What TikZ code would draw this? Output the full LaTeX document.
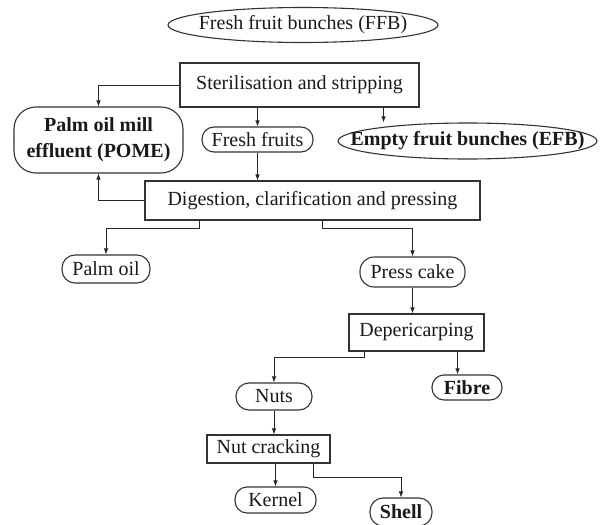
\documentclass[tikz,border=0pt]{standalone}
\usepackage{fontspec}
\setmainfont{Liberation Serif}
\usetikzlibrary{arrows.meta,shapes.geometric}

\begin{document}
\begin{tikzpicture}[x=1pt, y=-1pt,
    every node/.style={font=\fontsize{20}{24}\selectfont, inner sep=0pt, text=black!90},
    stepbox/.style={draw=black!80, line width=1.1pt, rectangle},
    pill/.style={draw=black!80, line width=1.1pt, rounded corners=12pt},
    oval/.style={draw=black!80, line width=1.1pt, ellipse, inner xsep=-45pt},
    boldtext/.style={font=\fontsize{20}{24}\selectfont\bfseries},
    flow/.style={draw=black!85, line width=0.8pt, -{Latex[length=6pt,width=4.5pt]}}]
    \useasboundingbox (0,0) rectangle (603,525);

    % process steps
    \node[oval, minimum width=270, minimum height=35] (ffb) at (303,25) {Fresh fruit bunches (FFB)};
    \node[stepbox, minimum width=239, minimum height=44] (steril) at (299.5,85) {Sterilisation and stripping};
    \node[pill, rounded corners=22pt, minimum width=169, minimum height=66, align=center, font=\fontsize{20}{26}\selectfont\bfseries] (pome) at (98.5,140) {Palm oil mill\\effluent (POME)};
    \node[pill, minimum width=111, minimum height=25] (fresh) at (257.5,139.5) {Fresh fruits};
    \node[oval, boldtext, minimum width=259, minimum height=36] (efb) at (467.5,141) {Empty fruit bunches (EFB)};
    \node[stepbox, minimum width=335, minimum height=39] (dig) at (312.5,200.5) {Digestion, clarification and pressing};
    \node[pill, rounded corners=13pt, minimum width=88, minimum height=28] (palm) at (106,269) {Palm oil};
    \node[pill, rounded corners=14pt, minimum width=105, minimum height=30] (press) at (412.5,272) {Press cake};
    \node[stepbox, minimum width=135, minimum height=37] (deper) at (416.5,332.5) {Depericarping};
    \node[pill, boldtext, minimum width=70, minimum height=25] (fibre) at (467,387.5) {Fibre};
    \node[pill, rounded corners=13pt, minimum width=76, minimum height=27] (nuts) at (274,396.5) {Nuts};
    \node[stepbox, minimum width=123, minimum height=28] (crack) at (268.5,449) {Nut cracking};
    \node[pill, minimum width=81, minimum height=26] (kernel) at (275.5,500) {Kernel};
    \node[pill, boldtext, rounded corners=13pt, minimum width=62, minimum height=28] (shell) at (401,512) {Shell};

    % connectors
    \draw[flow] (steril.west) -| (pome.north);
    \draw[flow] (steril.south -| fresh.north) -- (fresh.north);
    \draw[flow] ([xshift=-36]steril.south east) -- ([xshift=-36]steril.south east |- efb.north);
    \draw[flow] (fresh.south) -- (fresh.south |- dig.north);
    \draw[flow] (dig.west) -| (pome.south);
    \draw[flow] ([xshift=55]dig.south west) -- ++(0,8) -| (palm.north);
    \draw[flow] ([xshift=178]dig.south west) -- ++(0,8) -| (press.north);
    \draw[flow] (press.south) -- (press.south |- deper.north);
    \draw[flow] ([xshift=16]deper.south west) -- ++(0,6) -| (nuts.north);
    \draw[flow] ([xshift=-27]deper.south east) -- ([xshift=-27]deper.south east |- fibre.north);
    \draw[flow] (nuts.south) -- (nuts.south |- crack.north);
    \draw[flow] (kernel.north |- crack.south) -- (kernel.north);
    \draw[flow] ([xshift=-17]crack.south east) -- ++(0,14) -| (shell.north);
\end{tikzpicture}
\end{document}
